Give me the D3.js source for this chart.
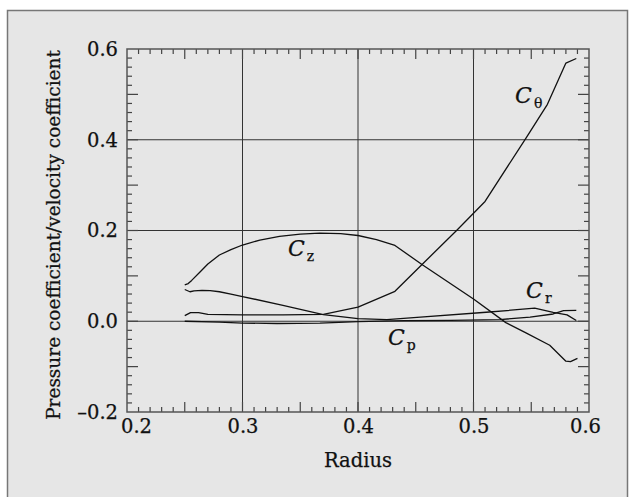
<!DOCTYPE html>
<html>
<head>
<meta charset="utf-8">
<script src="https://cdn.jsdelivr.net/npm/d3@7"></script>
<style>
  body { margin: 0; background: #fff; }
  svg { display: block; }
  text { font-family: "DejaVu Serif", "Liberation Serif", serif; fill: #111; stroke: #111; stroke-width: 0.25; }
</style>
</head>
<body>
<div id="main"></div>
<script>
// radius / coefficient pairs
const cZ = [[0.25,0.080],[0.253,0.083],[0.256,0.090],[0.263,0.108],[0.270,0.126],[0.280,0.146],
  [0.290,0.158],[0.300,0.168],[0.315,0.179],[0.332,0.187],[0.350,0.192],[0.367,0.194],[0.385,0.193],
  [0.400,0.189],[0.416,0.180],[0.432,0.167],[0.456,0.124],[0.500,0.049],[0.528,-0.003],[0.545,-0.025],
  [0.566,-0.053],[0.580,-0.088],[0.584,-0.089],[0.590,-0.082]];
const cTheta = [[0.25,0.0125],[0.255,0.019],[0.262,0.019],[0.270,0.015],[0.300,0.014],[0.335,0.014],
  [0.370,0.015],[0.400,0.031],[0.432,0.066],[0.455,0.124],[0.486,0.2015],[0.510,0.264],[0.546,0.406],
  [0.564,0.478],[0.580,0.569],[0.589,0.579]];
const cR = [[0.25,0.070],[0.2545,0.065],[0.258,0.067],[0.265,0.068],[0.272,0.0677],[0.280,0.065],
  [0.290,0.060],[0.300,0.0545],[0.335,0.035],[0.370,0.0148],[0.400,0.006],[0.425,0.0037],[0.454,0.009],
  [0.511,0.0198],[0.553,0.0287],[0.569,0.0198],[0.581,0.014],[0.589,0.0015]];
const cP = [[0.25,0.0],[0.28,-0.002],[0.30,-0.004],[0.33,-0.005],[0.367,-0.004],[0.40,-0.001],
  [0.44,0.0015],[0.48,0.002],[0.523,0.0037],[0.549,0.009],[0.569,0.016],[0.578,0.0235],[0.589,0.024]];

const series = [cZ, cTheta, cR, cP];
// curve labels: subscript and anchor in data units
const curveLabels = [
  {sub: "θ", r: 0.536, v: 0.482},
  {sub: "z", r: 0.3394, v: 0.1427},
  {sub: "r", r: 0.5455, v: 0.0523},
  {sub: "p", r: 0.426, v: -0.0514}
];

const xTicks = [0.2, 0.3, 0.4, 0.5, 0.6];
const yTicks = [-0.2, 0.0, 0.2, 0.4, 0.6];
const xGrid = [0.3, 0.4, 0.5];
const yGrid = [0.0, 0.2, 0.4];

const W = 635, H = 497;
const plot = {left: 127, right: 589, top: 49, bottom: 412};

const svg = d3.select("#main").append("svg").attr("width", W).attr("height", H);

// panel background
svg.append("rect")
  .attr("x", 7.5).attr("y", 10.5).attr("width", 620).attr("height", 500)
  .attr("fill", "#e6e6e6").attr("stroke", "#777").attr("stroke-width", 1.5);

const x = d3.scaleLinear().domain([0.2, 0.6]).range([plot.left, plot.right]);
const y = d3.scaleLinear().domain([-0.2, 0.6]).range([plot.bottom, plot.top]);

// grid
svg.append("g").selectAll("line").data(xGrid).join("line")
  .attr("x1", d => x(d)).attr("x2", d => x(d))
  .attr("y1", plot.top).attr("y2", plot.bottom)
  .attr("stroke", "#333").attr("stroke-width", 1);
svg.append("g").selectAll("line").data(yGrid).join("line")
  .attr("x1", plot.left).attr("x2", plot.right)
  .attr("y1", d => y(d)).attr("y2", d => y(d))
  .attr("stroke", "#333").attr("stroke-width", 1);

// inward ticks on all four sides
const xMinor = d3.range(21, 60).map(d => d / 100);
const yMinor = d3.range(-9, 30).map(d => d / 50);
const tickG = svg.append("g").attr("stroke", "#444").attr("stroke-width", 1.2);
xMinor.forEach(v => {
  const len = Math.round(v * 100) % 5 === 0 ? 10 : 5;
  tickG.append("line").attr("x1", x(v)).attr("x2", x(v)).attr("y1", plot.bottom).attr("y2", plot.bottom - len);
  tickG.append("line").attr("x1", x(v)).attr("x2", x(v)).attr("y1", plot.top).attr("y2", plot.top + len);
});
yMinor.forEach(v => {
  const len = Math.round(v * 50) % 5 === 0 ? 11 : 5;
  tickG.append("line").attr("x1", plot.left).attr("x2", plot.left + len).attr("y1", y(v)).attr("y2", y(v));
  tickG.append("line").attr("x1", plot.right).attr("x2", plot.right - len).attr("y1", y(v)).attr("y2", y(v));
});

// frame
svg.append("rect")
  .attr("x", plot.left).attr("y", plot.top)
  .attr("width", plot.right - plot.left).attr("height", plot.bottom - plot.top)
  .attr("fill", "none").attr("stroke", "#555").attr("stroke-width", 1.5);

const fmt = d => (d < 0 ? "–" : "") + Math.abs(d).toFixed(1);

const xAxis = svg.append("g")
  .attr("transform", `translate(0,${plot.bottom})`)
  .call(d3.axisBottom(x).tickValues(xTicks).tickSize(0).tickPadding(7).tickFormat(fmt));
xAxis.select(".domain").remove();
xAxis.selectAll("text").attr("font-size", 19.5).attr("font-family", null).attr("fill", "#111")
  .attr("dx", d => d === 0.2 ? 9 : (d === 0.6 ? -4 : 0));

const yAxis = svg.append("g")
  .attr("transform", `translate(${plot.left},0)`)
  .call(d3.axisLeft(y).tickValues(yTicks).tickSize(0).tickPadding(9).tickFormat(fmt));
yAxis.select(".domain").remove();
yAxis.selectAll("text").attr("font-size", 19.5).attr("font-family", null).attr("fill", "#111");

// curves
const line = d3.line().x(d => x(d[0])).y(d => y(d[1]));
svg.append("g").selectAll("path").data(series).join("path")
  .attr("d", line)
  .attr("fill", "none").attr("stroke", "#111").attr("stroke-width", 1.3)
  .attr("stroke-linejoin", "round");

// curve labels
curveLabels.forEach(l => {
  const t = svg.append("text").attr("x", x(l.r)).attr("y", y(l.v));
  t.append("tspan").attr("font-style", "italic").attr("font-size", 22).text("C");
  t.append("tspan").attr("font-size", 14).attr("dx", 2).attr("dy", 5).text(l.sub);
});

// axis titles
svg.append("text")
  .attr("x", (plot.left + plot.right) / 2).attr("y", 467)
  .attr("text-anchor", "middle").attr("font-size", 19.5)
  .text("Radius");
svg.append("text")
  .attr("transform", "translate(60,235) rotate(-90)")
  .attr("text-anchor", "middle").attr("font-size", 18.5)
  .text("Pressure coefficient/velocity coefficient");
</script>
</body>
</html>
